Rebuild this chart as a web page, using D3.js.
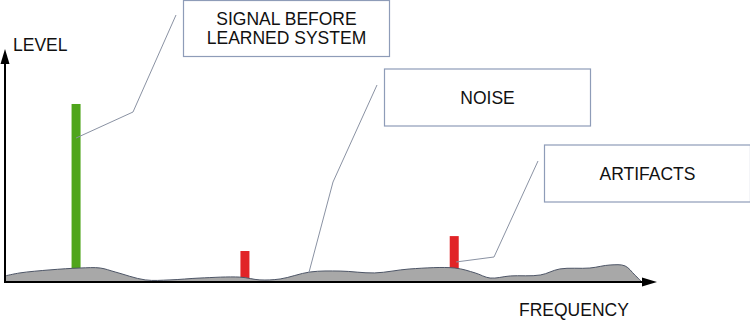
<!DOCTYPE html>
<html>
<head>
<meta charset="utf-8">
<script src="https://cdn.jsdelivr.net/npm/d3@7"></script>
<style>
  body { margin: 0; background: #fff; }
  svg { display: block; font-family: "Liberation Sans", Arial, sans-serif; }
</style>
</head>
<body>
<div id="chart"></div>
<script>
// noise floor (frequency 0-100, level 0-100)
const noiseFreq  = [0, 2.3, 6.9, 11.5, 14.6, 16.9, 21.5, 25.3, 29.9, 36.0, 39.1, 42.2, 46.8, 51.4, 56.7, 62.1, 69.0, 72.1, 74.4, 77.5, 82.1, 85.1, 89.7, 92.8, 95.1, 96.6, 97.7];
const noiseLevel = [2.6, 3.9, 5.2, 6.0, 6.0, 4.3, 0.9, 0.9, 1.7, 2.1, 0.9, 1.3, 4.3, 4.7, 3.9, 5.6, 6.0, 3.9, 1.7, 2.6, 3.0, 5.6, 6.0, 7.3, 6.9, 3.0, 0];

// spikes: the signal and two artifacts
const spikeFreq  = [10.9, 36.8, 68.9];
const spikeLevel = [76.4, 13.3, 19.7];
const spikeKind  = ["signal", "artifact", "artifact"];

// callouts
const calloutLabels = [["SIGNAL BEFORE", "LEARNED SYSTEM"], ["NOISE"], ["ARTIFACTS"]];
const calloutFreq   = [10.9, 46.6, 69.2];
const calloutLevel  = [61.8, 3.9, 8.6];

const xLabel = "FREQUENCY";
const yLabel = "LEVEL";

const width = 750, height = 323;

const x = d3.scaleLinear().domain([0, 100]).range([5, 657]);
const y = d3.scaleLinear().domain([0, 100]).range([282, 49]);
const color = d3.scaleOrdinal().domain(["signal", "artifact"]).range(["#4fa51b", "#e12427"]);

const svg = d3.select("#chart").append("svg")
  .attr("width", width)
  .attr("height", height);

// spikes (bottoms get covered by the noise)
svg.append("g").selectAll("rect")
  .data(spikeFreq)
  .join("rect")
  .attr("x", (d) => x(d) - 4.5)
  .attr("width", 9)
  .attr("y", (d, i) => y(spikeLevel[i]))
  .attr("height", (d, i) => y(0) - y(spikeLevel[i]))
  .attr("fill", (d, i) => color(spikeKind[i]));

// noise floor
const area = d3.area()
  .x((d) => x(d))
  .y0(y(0))
  .y1((d, i) => y(noiseLevel[i]))
  .curve(d3.curveCatmullRom.alpha(0.5));

svg.append("path")
  .datum(noiseFreq)
  .attr("d", area)
  .attr("fill", "#a8a8a8")
  .attr("stroke", "#4d5566")
  .attr("stroke-width", 1);

// axes with arrowheads
const axes = svg.append("g").attr("stroke", "#000").attr("fill", "#000");
axes.append("line")
  .attr("x1", x(0)).attr("y1", y(0) + 1)
  .attr("x2", x(0)).attr("y2", y(100) + 12)
  .attr("stroke-width", 2);
axes.append("path")
  .attr("d", `M${x(0)},${y(100)} L${x(0) - 4.5},${y(100) + 15} L${x(0) + 4.5},${y(100) + 15} Z`)
  .attr("stroke", "none");
axes.append("line")
  .attr("x1", x(0) - 1).attr("y1", y(0))
  .attr("x2", 645).attr("y2", y(0))
  .attr("stroke-width", 2);
axes.append("path")
  .attr("d", `M657,${y(0)} L642,${y(0) - 4.5} L642,${y(0) + 4.5} Z`)
  .attr("stroke", "none");

svg.append("text")
  .attr("x", 13).attr("y", 51)
  .attr("font-size", 17.5)
  .attr("fill", "#111")
  .text(yLabel);

svg.append("text")
  .attr("x", 519).attr("y", 316)
  .attr("font-size", 17.5)
  .attr("fill", "#111")
  .text(xLabel);

// callout boxes and leaders
const boxes = [
  { x: 183, y: 0.5, w: 206, h: 56, bend: [133, 112], start: [176, 15] },
  { x: 384, y: 69, w: 206, h: 57, bend: [333, 182], start: [377, 85] },
  { x: 544, y: 145, w: 206, h: 57, bend: [494, 257], start: [538, 161] }
];

const callouts = svg.append("g");
boxes.forEach((b, i) => {
  const tx = x(calloutFreq[i]), ty = y(calloutLevel[i]);
  callouts.append("path")
    .attr("d", `M${b.start[0]},${b.start[1]} L${b.bend[0]},${b.bend[1]} L${tx},${ty}`)
    .attr("fill", "none")
    .attr("stroke", "#8a92a3")
    .attr("stroke-width", 1);

  callouts.append("rect")
    .attr("x", b.x + 0.5).attr("y", b.y)
    .attr("width", b.w).attr("height", b.h)
    .attr("fill", "#fff")
    .attr("stroke", "#8e9cb8")
    .attr("stroke-width", 1.2);

  const lines = calloutLabels[i];
  const cy = b.y + b.h / 2;
  const t = callouts.append("text")
    .attr("text-anchor", "middle")
    .attr("font-size", 17.5)
    .attr("fill", "#111");
  lines.forEach((line, j) => {
    t.append("tspan")
      .attr("x", b.x + b.w / 2 + 0.5)
      .attr("y", cy + 6 + (j - (lines.length - 1) / 2) * 19.5)
      .text(line);
  });
});
</script>
</body>
</html>
